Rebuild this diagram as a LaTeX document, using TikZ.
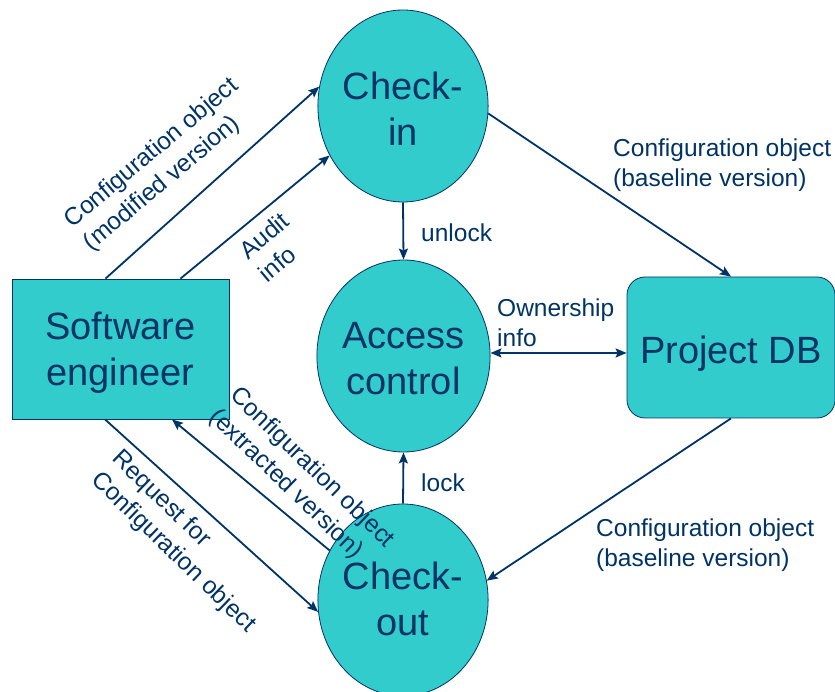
\documentclass[tikz,border=0pt]{standalone}
\usepackage{fontspec}
\setmainfont{Liberation Sans}
\usetikzlibrary{shapes.geometric,arrows.meta,calc}
\definecolor{navy}{RGB}{0,51,102}
\definecolor{teal}{RGB}{51,204,204}
\newcommand{\bigtxt}[2][-4pt]{\raisebox{#1}[\height][\depth]{\begin{tabular}{@{}c@{}}#2\end{tabular}}}
\tikzset{
  big/.style={font=\fontsize{38}{46}\selectfont, text=navy},
  oval/.style={big, ellipse, draw=navy, line width=0.8pt, fill=teal, minimum width=166pt, minimum height=192pt, inner sep=0pt},
  box/.style={big, rectangle, draw=navy, line width=0.8pt, fill=teal, inner sep=0pt},
  lbl/.style={font=\fontsize{24.5}{30}\selectfont, text=navy, align=left, inner sep=0pt},
  conn/.style={draw=navy, line width=1.8pt, -{Stealth[length=11pt,width=9pt,inset=2pt]}},
  dconn/.style={draw=navy, line width=1.8pt, {Stealth[length=11pt,width=9pt,inset=2pt]}-{Stealth[length=11pt,width=9pt,inset=2pt]}},
}
\begin{document}
\begin{tikzpicture}[x=1pt,y=1pt]
\useasboundingbox (0,0) rectangle (835,691);
\node[oval] (ci) at (403,585) {\bigtxt[-7pt]{Check-\\in}};
\node[oval] (ac) at (403.5,335) {\bigtxt[-6pt]{Access\\control}};
\node[oval] (co) at (403,91) {\bigtxt[-3pt]{Check-\\out}};
\node[box, minimum width=217pt, minimum height=140pt] (se) at (120.5,342) {\bigtxt[-4pt]{Software\\engineer}};
\node[box, rounded corners=18pt, minimum width=208pt, minimum height=141pt] (db) at (731,343.5) {\bigtxt[-7pt]{Project DB}};

\draw[conn] ($(se.north)+(-15,0)$) -- (ci.167);
\draw[conn] ($(se.north)+(60,0)$) -- (ci.214);
\draw[conn] (ci.-5) -- (db.north);
\draw[conn] (ci.south) -- (ac.north);
\draw[dconn] (ac.2) -- (ac.2 -| db.west);
\draw[conn] (db.south) -- (co.13);
\draw[conn] (co.north) -- (ac.south);
\draw[conn] (co.146) -- ($(se.south)+(51.5,0)$);
\draw[conn] ($(se.south)+(-15.5,0)$) -- (co.188);

\node[lbl, anchor=west] (l1) at (613,526) {Configuration object\\(baseline version)};
\node[lbl, anchor=west] (l2) at (421,458) {unlock};
\node[lbl, anchor=west] (l3) at (497,368.5) {Ownership\\info};
\node[lbl, anchor=west] (l4) at (421,208) {lock};
\node[lbl, anchor=west] (l5) at (596,146) {Configuration object\\(baseline version)};
\node[lbl, anchor=west, rotate=40] (l6) at (78,456) {Configuration object\\(modified version)};
\node[lbl, anchor=west, rotate=40] (l7) at (252,426) {Audit\\info};
\node[lbl, anchor=west, rotate=-44] (l8) at (223,288) {Configuration object\\(extracted version)};
\node[lbl, anchor=west, rotate=-44] (l9) at (105,225) {Request for\\Configuration object};
\end{tikzpicture}
\end{document}
